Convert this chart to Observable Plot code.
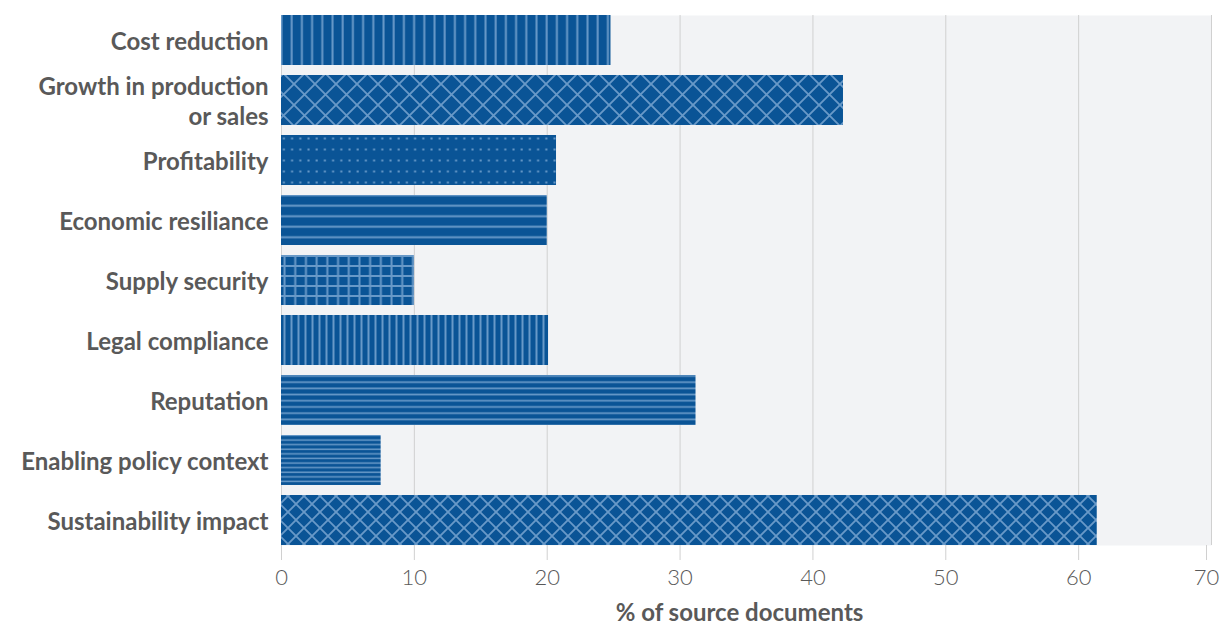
<!DOCTYPE html>
<html><head><meta charset="utf-8">
<script src="https://cdn.jsdelivr.net/npm/d3@7"></script>
<script src="https://cdn.jsdelivr.net/npm/@observablehq/plot@0.6"></script>
<style>
body{margin:0;background:#fff;}
#defs{position:absolute;left:0;top:0;width:0;height:0;overflow:hidden;}
</style>
</head><body>
<svg id="defs" width="0" height="0"><defs></defs></svg>
<div id="chart"></div>
<script>
const categories = ["Cost reduction","Growth in production or sales","Profitability","Economic resiliance","Supply security","Legal compliance","Reputation","Enabling policy context","Sustainability impact"];
const values = [24.8, 42.3, 20.7, 20.0, 10.0, 20.1, 31.2, 7.5, 61.4];
const patternIds = ["vl10","xh21","dots","hl10","grid","vl7","hl6","hl4","xh16"];
const xTicks = [0,10,20,30,40,50,60,70];

const BG = "#0a5496", LN = "#6899c8";
const defs = d3.select("#defs defs");
function pat(id, w, h) {
  const p = defs.append("pattern").attr("id", id).attr("patternUnits","userSpaceOnUse")
    .attr("width", w).attr("height", h);
  p.append("rect").attr("width", w).attr("height", h).attr("fill", BG);
  return p;
}
function vlines(id, s, lw) { const p = pat(id, s, 10); p.append("rect").attr("x", s/2).attr("width", lw).attr("height", 10).attr("fill", LN); }
function hlines(id, s, lw) { const p = pat(id, 10, s); p.append("rect").attr("y", s/2).attr("height", lw).attr("width", 10).attr("fill", LN); }
function grid(id, sx, sy, lw) { const p = pat(id, sx, sy);
  p.append("rect").attr("x", sx/2).attr("width", lw).attr("height", sy).attr("fill", LN);
  p.append("rect").attr("y", sy/2).attr("height", lw).attr("width", sx).attr("fill", LN); }
function dots(id, sx, sy, r) { const p = pat(id, sx, sy);
  p.append("rect").attr("x", sx/2).attr("y", sy/2).attr("width", r).attr("height", r).attr("fill", LN); }
function xhatch(id, P, lw) { const p = pat(id, P, P);
  let d = "";
  for (const k of [-1,0,1]) {
    d += `M${k*P-1},-1L${k*P+P+1},${P+1}`;
    d += `M${k*P-1},${P+1}L${k*P+P+1},-1`;
  }
  p.append("path").attr("d", d).attr("stroke", LN).attr("stroke-width", lw).attr("fill","none"); }

vlines("vl10", 10.2, 2);
xhatch("xh21", 21, 1.8);
dots("dots", 8.2, 11, 2);
hlines("hl10", 10.5, 2);
grid("grid", 10.7, 10, 2);
vlines("vl7", 7, 2);
hlines("hl6", 6.2, 1.7);
hlines("hl4", 4.6, 1.5);
xhatch("xh16", 16, 1.8);

const rows = categories.map((c, i) => ({category: c, value: values[i], pattern: patternIds[i]}));
const tickStyle = {tickSize: 15, stroke: "#d0d0d0", strokeOpacity: 1, tickPadding: 9,
  fontSize: 22, fontWeight: 300, fill: "#595959", label: null};

const chart = Plot.plot({
  width: 1222, height: 625,
  marginLeft: 281, marginRight: 11, marginTop: 15, marginBottom: 80,
  style: {fontFamily: "Lato, 'Open Sans', sans-serif", background: "#fff"},
  x: {domain: [0, 70], ticks: xTicks},
  y: {domain: categories, paddingInner: 1/6, paddingOuter: 0, round: false},
  marks: [
    Plot.frame({fill: "#f2f3f5", stroke: null}),
    Plot.gridX(xTicks, {stroke: "#d0d0d0", strokeOpacity: 1, strokeWidth: 1}),
    Plot.axisX(xTicks.slice(0, -1), tickStyle),
    Plot.axisX(xTicks.slice(-1), {...tickStyle, dx: -5}),
    ...rows.map(r => Plot.barX([r], {x: "value", y: "category", fill: `url(#${r.pattern})`})),
    Plot.axisY({tickSize: 0, tickPadding: 13, fontSize: 24, fontWeight: "bold", fill: "#595959",
      lineHeight: 1.25, label: null,
      tickFormat: d => d === "Growth in production or sales" ? "Growth in production\nor sales" : d}),
    Plot.text(["% of source documents"], {frameAnchor: "bottom", dy: 75, dx: -7, fontSize: 24,
      fontWeight: "bold", fill: "#595959"})
  ]
});
document.getElementById("chart").append(chart);
</script>
</body></html>
